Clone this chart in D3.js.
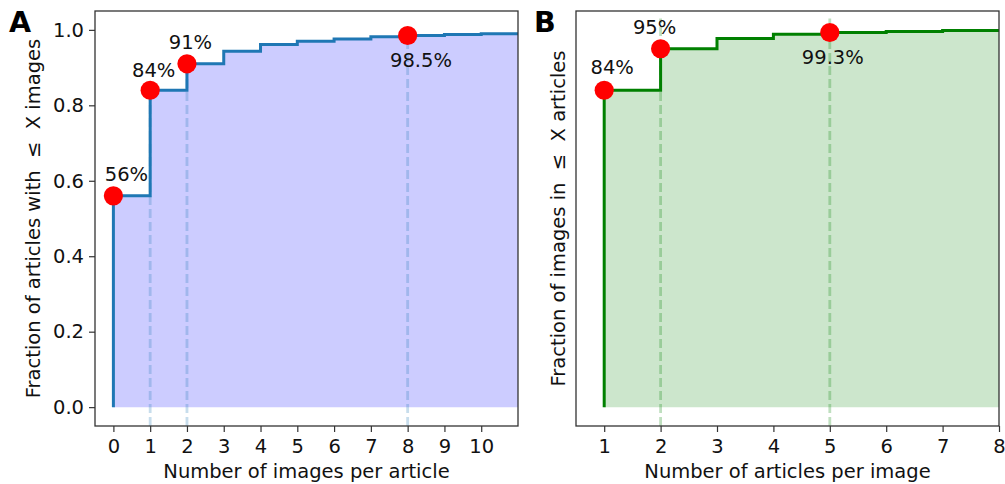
<!DOCTYPE html>
<html>
<head>
<meta charset="utf-8">
<script src="https://cdn.jsdelivr.net/npm/d3@7"></script>
<style>
  html, body { margin: 0; padding: 0; background: #fff; }
  svg { display: block; font-family: "DejaVu Sans", sans-serif; }
</style>
</head>
<body>
<svg id="chart" width="1005" height="484"></svg>
<script>
// Panel A: cumulative fraction of articles with <= X images
const imagesPerArticle = [0, 1, 2, 3, 4, 5, 6, 7, 8, 9, 10];
const articleFraction = [0.56, 0.84, 0.91, 0.943, 0.961, 0.970, 0.976, 0.982, 0.985, 0.988, 0.990];
const articleMarks = [0, 1, 2, 8];
const articleMarkLabels = ["56%", "84%", "91%", "98.5%"];
const articleTicksX = [0, 1, 2, 3, 4, 5, 6, 7, 8, 9, 10];
const articleTicksY = [0.0, 0.2, 0.4, 0.6, 0.8, 1.0];

// Panel B: cumulative fraction of images used in <= X articles
const articlesPerImage = [1, 2, 3, 4, 5, 6, 7];
const imageFraction = [0.84, 0.95, 0.977, 0.9886, 0.993, 0.9955, 0.998];
const imageMarks = [1, 2, 5];
const imageMarkLabels = ["84%", "95%", "99.3%"];
const imageTicksX = [1, 2, 3, 4, 5, 6, 7, 8];

const svg = d3.select("#chart");
const FONT = 19.5;

function panel(cfg) {
  const x = d3.scaleLinear().domain(cfg.xDomain).range([cfg.left, cfg.right]);
  const y = d3.scaleLinear().domain([-0.05, 1.05]).range([cfg.bottom, cfg.top]);
  const g = svg.append("g");

  const lookup = new Map(cfg.xs.map((v, i) => [v, cfg.ys[i]]));
  const pts = cfg.xs.map((v, i) => [v, cfg.ys[i]]);
  pts.push([cfg.xDomain[1], cfg.ys[cfg.ys.length - 1]]);

  // filled region under the step curve
  g.append("path")
    .attr("d", d3.area().curve(d3.curveStepAfter)
      .x(d => x(d[0])).y0(y(0)).y1(d => y(d[1]))(pts))
    .attr("fill", cfg.fill);

  // dashed guides at the highlighted values
  cfg.marks.forEach(m => {
    if (m === cfg.xs[0]) return;
    g.append("line")
      .attr("x1", x(m)).attr("x2", x(m))
      .attr("y1", cfg.bottom)
      .attr("y2", cfg.guideToTop ? y(1.03) : y(lookup.get(m)))
      .attr("stroke", cfg.line)
      .attr("stroke-opacity", 0.25)
      .attr("stroke-width", 2.8)
      .attr("stroke-dasharray", "9,4");
  });

  // step line, starting at zero
  const linePts = [[cfg.xs[0], 0]].concat(pts);
  g.append("path")
    .attr("d", d3.line().curve(d3.curveStepAfter)
      .x(d => x(d[0])).y(d => y(d[1]))(linePts))
    .attr("fill", "none")
    .attr("stroke", cfg.line)
    .attr("stroke-width", 3);

  // highlighted points and their percentage labels
  cfg.marks.forEach((m, i) => {
    const cx = x(m), cy = y(lookup.get(m));
    g.append("circle")
      .attr("cx", cx).attr("cy", cy).attr("r", 9.6)
      .attr("fill", "#ff0000");
    const off = cfg.labelOffsets[i];
    g.append("text")
      .attr("x", cx + off[0]).attr("y", cy + off[1])
      .attr("text-anchor", "middle")
      .attr("font-size", FONT)
      .attr("fill", "#111")
      .text(cfg.markLabels[i]);
  });

  // frame
  g.append("rect")
    .attr("x", cfg.left).attr("y", cfg.top)
    .attr("width", cfg.right - cfg.left).attr("height", cfg.bottom - cfg.top)
    .attr("fill", "none").attr("stroke", "#333").attr("stroke-width", 1.3);

  // x axis
  const ax = g.append("g")
    .attr("transform", `translate(0,${cfg.bottom})`)
    .call(d3.axisBottom(x).tickValues(cfg.ticksX).tickFormat(d3.format("d"))
      .tickSize(6).tickPadding(7));
  ax.select(".domain").remove();
  ax.selectAll("line").attr("stroke", "#333").attr("stroke-width", 1.2);
  ax.selectAll("text").attr("font-size", FONT).attr("fill", "#111")
    .attr("font-family", "DejaVu Sans, sans-serif");

  // y axis
  if (cfg.ticksY) {
    const ay = g.append("g")
      .attr("transform", `translate(${cfg.left},0)`)
      .call(d3.axisLeft(y).tickValues(cfg.ticksY).tickFormat(d3.format(".1f"))
        .tickSize(6).tickPadding(5));
    ay.select(".domain").remove();
    ay.selectAll("line").attr("stroke", "#333").attr("stroke-width", 1.2);
    ay.selectAll("text").attr("font-size", FONT).attr("fill", "#111")
      .attr("font-family", "DejaVu Sans, sans-serif");
  }

  // axis titles
  g.append("text")
    .attr("x", (cfg.left + cfg.right) / 2).attr("y", 478)
    .attr("text-anchor", "middle").attr("font-size", FONT).attr("fill", "#111")
    .text(cfg.xTitle);
  g.append("text")
    .attr("transform", `translate(${cfg.yTitleX},${(cfg.top + cfg.bottom) / 2}) rotate(-90)`)
    .attr("text-anchor", "middle").attr("font-size", FONT).attr("fill", "#111")
    .attr("xml:space", "preserve")
    .text(cfg.yTitle);

  // panel letter
  g.append("text")
    .attr("x", cfg.letterX).attr("y", 32)
    .attr("font-size", 28.5).attr("font-weight", "bold").attr("fill", "#000")
    .text(cfg.letter);
}

panel({
  left: 95, right: 518, top: 11, bottom: 426,
  xDomain: [-0.5, 11],
  xs: imagesPerArticle, ys: articleFraction,
  marks: articleMarks, markLabels: articleMarkLabels,
  labelOffsets: [[13, -15], [3.5, -13.6], [3.5, -14.7], [13.3, 31]],
  ticksX: articleTicksX, ticksY: articleTicksY,
  fill: "#ccccff", line: "#1f77b4", guideToTop: false,
  xTitle: "Number of images per article",
  yTitle: "Fraction of articles with \u00a0\u2264\u00a0 X images",
  yTitleX: 40, letter: "A", letterX: 9
});

panel({
  left: 576, right: 999, top: 11, bottom: 426,
  xDomain: [0.5, 8],
  xs: articlesPerImage, ys: imageFraction,
  marks: imageMarks, markLabels: imageMarkLabels,
  labelOffsets: [[8, -16], [-6, -14.6], [3, 31.7]],
  ticksX: imageTicksX, ticksY: null,
  fill: "#cce6cc", line: "#008000", guideToTop: true,
  xTitle: "Number of articles per image",
  yTitle: "Fraction of images in \u00a0\u2264\u00a0 X articles",
  yTitleX: 565, letter: "B", letterX: 534
});
</script>
</body>
</html>
